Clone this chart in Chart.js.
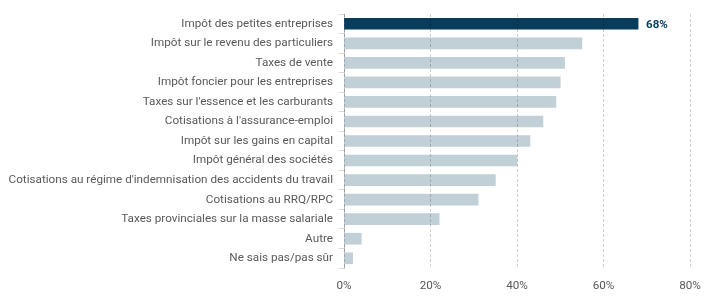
<!DOCTYPE html>
<html>
<head>
<meta charset="utf-8">
<script src="https://cdn.jsdelivr.net/npm/chart.js@4"></script>
<style>
  body { margin: 0; background: #fff; }
  #wrap { width: 717px; height: 300px; }
</style>
</head>
<body>
<div id="wrap"><canvas id="chart"></canvas></div>
<script>
// chart data
const categories = [
    'Impôt des petites entreprises',
    'Impôt sur le revenu des particuliers',
    'Taxes de vente',
    'Impôt foncier pour les entreprises',
    "Taxes sur l'essence et les carburants",
    "Cotisations à l'assurance-emploi",
    'Impôt sur les gains en capital',
    'Impôt général des sociétés',
    "Cotisations au régime d'indemnisation des accidents du travail",
    'Cotisations au RRQ/RPC',
    'Taxes provinciales sur la masse salariale',
    'Autre',
    'Ne sais pas/pas sûr'
];
const values = [68, 55, 51, 50, 49, 46, 43, 40, 35, 31, 22, 4, 2];
const xTicks = [0, 20, 40, 60, 80];
const highlighted = ['68%'];

const barColors = values.map((v, i) => i === 0 ? '#083c5c' : '#c1cfd6');

// draws the value label next to the first bar only
const valueLabel = {
    id: 'valueLabel',
    afterDatasetsDraw(chart) {
        const ctx = chart.ctx;
        const bar = chart.getDatasetMeta(0).data[0];
        ctx.save();
        ctx.font = 'bold 11.5px Roboto';
        ctx.fillStyle = '#083c5c';
        ctx.textBaseline = 'middle';
        ctx.fillText(highlighted[0], bar.x + 8, bar.y + 1);
        ctx.restore();
    }
};

new Chart(document.getElementById('chart').getContext('2d'), {
    type: 'bar',
    data: {
        labels: categories,
        datasets: [{
            data: values,
            backgroundColor: barColors,
            barThickness: 11
        }]
    },
    options: {
        indexAxis: 'y',
        responsive: true,
        maintainAspectRatio: false,
        animation: false,
        layout: { padding: { top: 14, right: 27, bottom: 0, left: 0 } },
        plugins: { legend: { display: false }, tooltip: { enabled: false } },
        scales: {
            x: {
                min: 0,
                max: 80,
                afterBuildTicks(scale) { scale.ticks = xTicks.map(v => ({ value: v })); },
                afterFit(scale) { scale.height = 32; },
                grid: { color: 'rgba(0,0,0,0.18)', drawTicks: false, z: 1 },
                border: { display: false, dash: [3, 2] },
                ticks: { color: '#595959', font: { family: 'Roboto', size: 11.7 }, padding: 11,
                    callback: v => v + '%' }
            },
            y: {
                afterFit(scale) { scale.width = 344; },
                grid: { drawOnChartArea: false, offset: true, tickLength: 5, color: '#d9d9d9' },
                border: { color: '#bfbfbf' },
                ticks: { color: '#595959', font: { family: 'Roboto', size: 11.7 }, padding: 6, autoSkip: false }
            }
        }
    },
    plugins: [valueLabel]
});
</script>
</body>
</html>
